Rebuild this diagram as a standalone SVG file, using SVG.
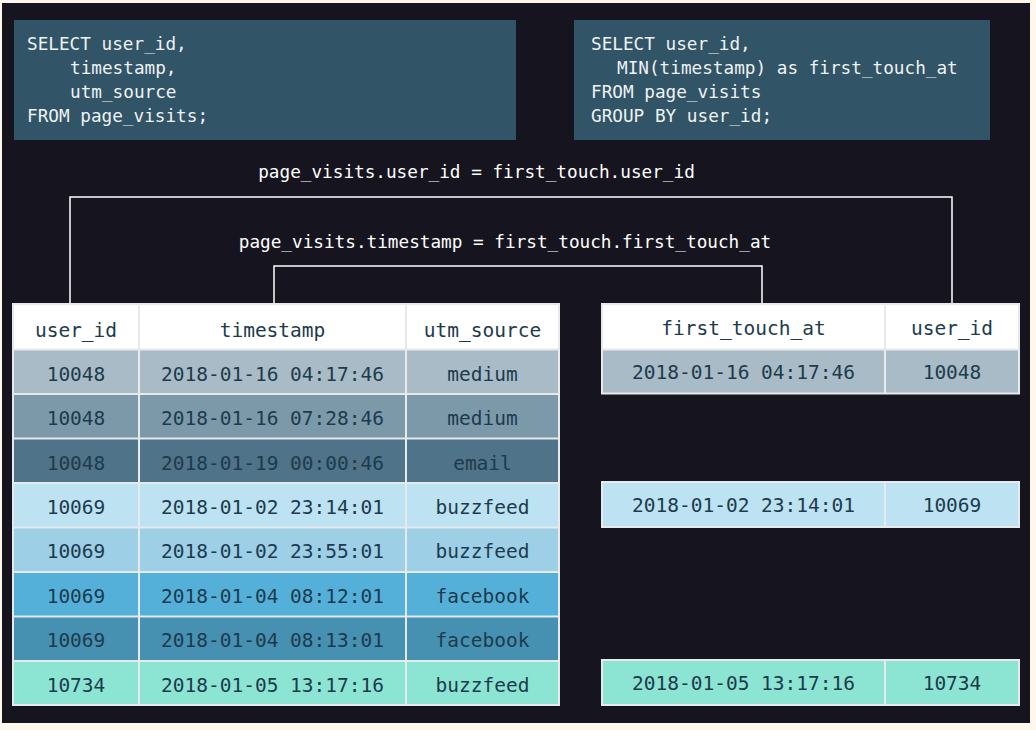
<svg xmlns="http://www.w3.org/2000/svg" width="1036" height="730" viewBox="0 0 1036 730">
<style>
.sql{font-family:"DejaVu Sans Mono","Liberation Mono",monospace;font-size:17.7px;fill:#eef2f4}
.lbl{font-family:"DejaVu Sans Mono","Liberation Mono",monospace;font-size:17.7px;fill:#ffffff;text-anchor:middle}
.cell{font-family:"DejaVu Sans Mono","Liberation Mono",monospace;font-size:19.5px;fill:#1d3b4d;text-anchor:middle}
.grid{stroke:#e6eaec;stroke-width:2;fill:none}
.conn{stroke:#ffffff;stroke-width:1.5;fill:none}
.box{fill:#315466}
</style>
<rect x="0" y="0" width="1036" height="730" fill="#fdf7ec"/>
<rect x="2" y="3" width="1028" height="720" fill="#16151f"/>

<g id="sql-left">
<rect class="box" x="14" y="20" width="502" height="120"/>
<text class="sql" x="27" y="50">SELECT user_id,</text>
<text class="sql" x="70" y="74">timestamp,</text>
<text class="sql" x="70" y="98">utm_source</text>
<text class="sql" x="27" y="122">FROM page_visits;</text>
</g>

<g id="sql-right">
<rect class="box" x="574" y="20" width="416" height="120"/>
<text class="sql" x="591" y="50">SELECT user_id,</text>
<text class="sql" x="617" y="74">MIN(timestamp) as first_touch_at</text>
<text class="sql" x="591" y="98">FROM page_visits</text>
<text class="sql" x="591" y="122">GROUP BY user_id;</text>
</g>

<g id="connectors">
<polyline class="conn" points="70,304 70,197 952,197 952,304"/>
<polyline class="conn" points="274,304 274,266 762,266 762,304"/>
<text class="lbl" x="476.5" y="178">page_visits.user_id = first_touch.user_id</text>
<text class="lbl" x="505" y="248">page_visits.timestamp = first_touch.first_touch_at</text>
</g>

<g id="table-page-visits">
<rect x="13" y="304" width="546" height="45.5" fill="#ffffff"/>
<rect x="13" y="349.5" width="546" height="44.5" fill="#a9bbc6"/>
<rect x="13" y="394" width="546" height="44.5" fill="#7c99aa"/>
<rect x="13" y="438.5" width="546" height="44.5" fill="#4f7388"/>
<rect x="13" y="483" width="546" height="44.5" fill="#bde2f1"/>
<rect x="13" y="527.5" width="546" height="44.5" fill="#9dcfe6"/>
<rect x="13" y="572" width="546" height="44.5" fill="#55b0d9"/>
<rect x="13" y="616.5" width="546" height="44.5" fill="#4690b1"/>
<rect x="13" y="661" width="546" height="44" fill="#8ce4d2"/>
<path class="grid" d="M13,304H559V705H13Z M139,304V705 M406,304V705 M13,349.5H559 M13,394H559 M13,438.5H559 M13,483H559 M13,527.5H559 M13,572H559 M13,616.5H559 M13,661H559"/>
<text class="cell" x="76" y="337">user_id</text>
<text class="cell" x="272.5" y="337">timestamp</text>
<text class="cell" x="482.5" y="337">utm_source</text>
<text class="cell" x="76" y="381">10048</text><text class="cell" x="272.5" y="381">2018-01-16 04:17:46</text><text class="cell" x="482.5" y="381">medium</text>
<text class="cell" x="76" y="425">10048</text><text class="cell" x="272.5" y="425">2018-01-16 07:28:46</text><text class="cell" x="482.5" y="425">medium</text>
<text class="cell" x="76" y="469.5">10048</text><text class="cell" x="272.5" y="469.5">2018-01-19 00:00:46</text><text class="cell" x="482.5" y="469.5">email</text>
<text class="cell" x="76" y="513.5">10069</text><text class="cell" x="272.5" y="513.5">2018-01-02 23:14:01</text><text class="cell" x="482.5" y="513.5">buzzfeed</text>
<text class="cell" x="76" y="558">10069</text><text class="cell" x="272.5" y="558">2018-01-02 23:55:01</text><text class="cell" x="482.5" y="558">buzzfeed</text>
<text class="cell" x="76" y="602.5">10069</text><text class="cell" x="272.5" y="602.5">2018-01-04 08:12:01</text><text class="cell" x="482.5" y="602.5">facebook</text>
<text class="cell" x="76" y="647">10069</text><text class="cell" x="272.5" y="647">2018-01-04 08:13:01</text><text class="cell" x="482.5" y="647">facebook</text>
<text class="cell" x="76" y="691.5">10734</text><text class="cell" x="272.5" y="691.5">2018-01-05 13:17:16</text><text class="cell" x="482.5" y="691.5">buzzfeed</text>
</g>

<g id="table-first-touch">
<rect x="602" y="304" width="417" height="45.5" fill="#ffffff"/>
<rect x="602" y="349.5" width="417" height="44" fill="#a9bbc6"/>
<path class="grid" d="M602,304H1019V393.5H602Z M885,304V393.5 M602,349.5H1019"/>
<text class="cell" x="743.5" y="335">first_touch_at</text>
<text class="cell" x="952" y="335">user_id</text>
<text class="cell" x="743.5" y="379">2018-01-16 04:17:46</text>
<text class="cell" x="952" y="379">10048</text>
</g>

<g id="row-first-touch-10069">
<rect x="602" y="482" width="417" height="45" fill="#bde2f1"/>
<path class="grid" d="M602,482H1019V527H602Z M885,482V527"/>
<text class="cell" x="743.5" y="512">2018-01-02 23:14:01</text>
<text class="cell" x="952" y="512">10069</text>
</g>

<g id="row-first-touch-10734">
<rect x="602" y="660" width="417" height="45" fill="#8ce4d2"/>
<path class="grid" d="M602,660H1019V705H602Z M885,660V705"/>
<text class="cell" x="743.5" y="690">2018-01-05 13:17:16</text>
<text class="cell" x="952" y="690">10734</text>
</g>
</svg>
